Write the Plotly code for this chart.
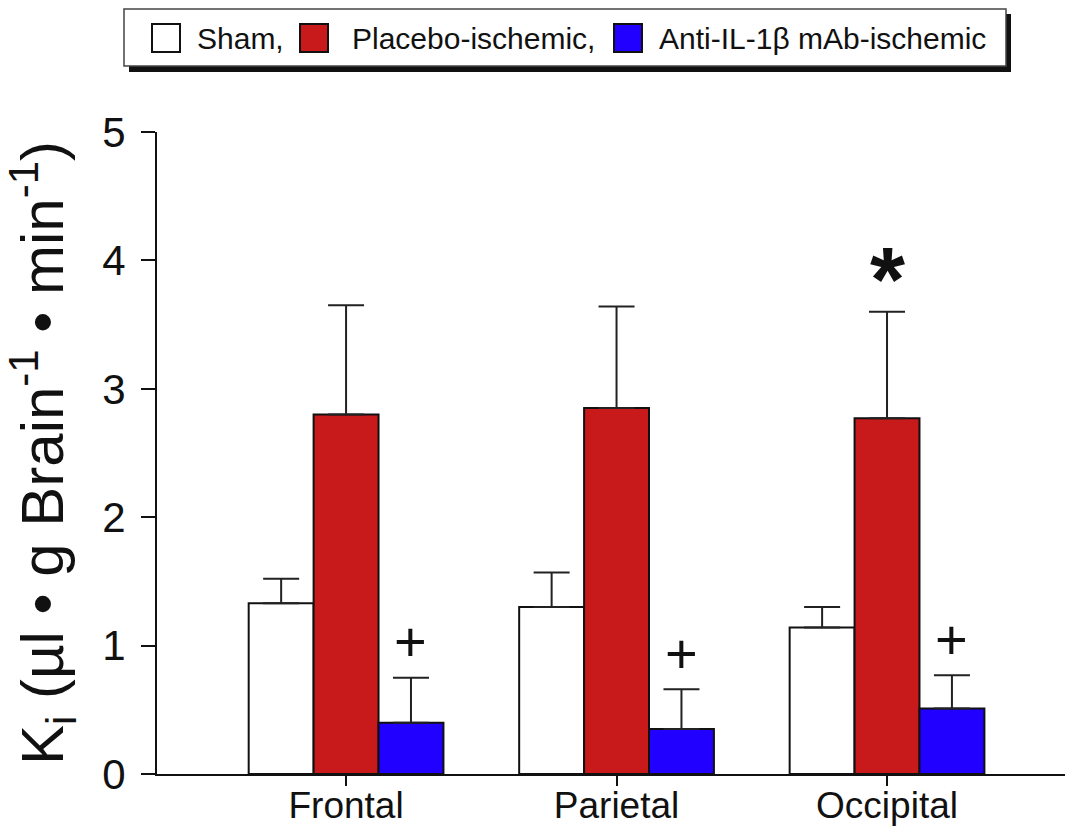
import plotly.graph_objects as go

regions = ["Frontal", "Parietal", "Occipital"]
series_names = ["Sham,", "Placebo-ischemic,", "Anti-IL-1β mAb-ischemic"]
sham = [1.33, 1.30, 1.14]
sham_err = [0.19, 0.27, 0.16]
placebo = [2.80, 2.85, 2.77]
placebo_err = [0.85, 0.79, 0.83]
anti = [0.40, 0.35, 0.51]
anti_err = [0.35, 0.31, 0.26]
colors = ["#FFFFFF", "#C8191B", "#2200FF"]

FONT = "Liberation Sans, Arial, Helvetica, sans-serif"
INK = "#111111"
W, H = 1065, 827
ML, MR, MT, MB = 157, 0, 132, 53
PW, PH = W - ML - MR, H - MT - MB


def px_x(p):
    return (p - ML) / PW


def px_y(p):
    return 1 - (p - MT) / PH


x_idx = [0, 1, 2]

fig = go.Figure()
for name, vals, errs, col in zip(series_names, [sham, placebo, anti],
                                 [sham_err, placebo_err, anti_err], colors):
    fig.add_trace(go.Bar(
        x=x_idx, y=vals, name=name, showlegend=False,
        marker=dict(color=col, line=dict(color=INK, width=2)),
        error_y=dict(type="data", array=errs, arrayminus=[0] * len(errs),
                     symmetric=False, color="#222222", thickness=2, width=18),
    ))

# significance markers
bar_w = 0.24
for i in range(3):
    fig.add_annotation(x=i + bar_w, y=anti[i] + anti_err[i], text="+",
                       showarrow=False, yanchor="middle", yshift=36,
                       font=dict(family=FONT, size=56, color=INK))
fig.add_annotation(x=2, y=placebo[2] + placebo_err[2], text="<b>*</b>",
                   showarrow=False, yanchor="middle", yshift=32,
                   font=dict(family=FONT, size=90, color=INK))

# legend box (drawn as layout shapes + text)
shapes = [
    dict(type="rect", xref="paper", yref="paper",
         x0=px_x(129), x1=px_x(1011), y0=px_y(72), y1=px_y(14),
         fillcolor=INK, line=dict(width=0)),
    dict(type="rect", xref="paper", yref="paper",
         x0=px_x(124), x1=px_x(1006), y0=px_y(66), y1=px_y(9),
         fillcolor="white", line=dict(color="#444444", width=1.5)),
]
swatch_left = [152, 300, 614]
text_left = [195, 350, 657]
for name, col, sl, tl in zip(series_names, colors, swatch_left, text_left):
    shapes.append(dict(type="rect", xref="paper", yref="paper",
                       x0=px_x(sl), x1=px_x(sl + 28), y0=px_y(52), y1=px_y(24),
                       fillcolor=col, line=dict(color=INK, width=2)))
    fig.add_annotation(xref="paper", yref="paper", x=px_x(tl), y=px_y(38),
                       xanchor="left", yanchor="middle", text=name,
                       showarrow=False,
                       font=dict(family=FONT, size=30, color=INK))

fig.update_layout(
    width=W, height=H,
    margin=dict(l=ML, r=MR, t=MT, b=MB, pad=0),
    paper_bgcolor="white", plot_bgcolor="white",
    barmode="group", bargap=0.28, bargroupgap=0,
    showlegend=False,
    shapes=shapes,
    font=dict(family=FONT, color=INK),
    xaxis=dict(range=[-0.699, 2.658], tickmode="array", tickvals=x_idx,
               ticktext=regions, showline=True, linecolor=INK, linewidth=2,
               ticks="outside", ticklen=10, tickwidth=2, tickcolor=INK,
               ticklabelstandoff=-12,
               showgrid=False, zeroline=False, automargin=False,
               tickfont=dict(family=FONT, size=37, color=INK)),
    yaxis=dict(range=[0, 5], tickvals=[0, 1, 2, 3, 4, 5],
               showline=True, linecolor=INK, linewidth=2,
               ticks="outside", ticklen=14, tickwidth=2, tickcolor=INK,
               ticklabelstandoff=7,
               showgrid=False, zeroline=False, automargin=False,
               tickfont=dict(family=FONT, size=42, color=INK),
               title=dict(text="K<sub>i</sub> (µl • g Brain<sup>-1</sup> • min<sup>-1</sup>)",
                          font=dict(family=FONT, size=60, color=INK),
                          standoff=25)),
)

fig.write_html("out.html", config={"displayModeBar": False},
               post_script="document.body.style.margin='0';document.body.style.overflow='hidden';")
